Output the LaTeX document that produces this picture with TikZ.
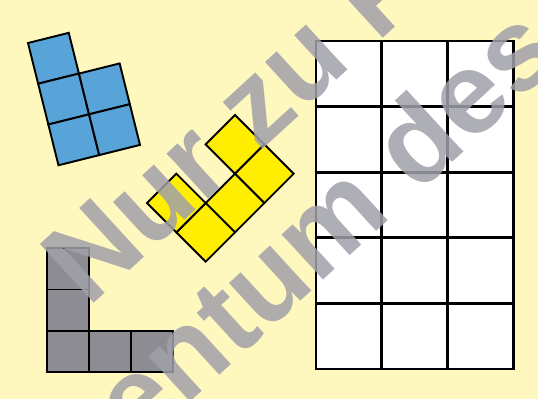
\documentclass[tikz,border=0pt]{standalone}
\usepackage{xcolor}
\usepackage{fontspec}
\usepackage{tikz}
\newfontfamily\wmfont{Liberation Sans}

\definecolor{paper}{RGB}{255,248,190}
\definecolor{tileblue}{RGB}{88,163,216}
\definecolor{tileyellow}{RGB}{255,238,0}
\definecolor{tilegray}{RGB}{140,140,146}
\definecolor{wmgray}{RGB}{160,160,170}

\begin{document}
\begin{tikzpicture}[
    x=0.02cm, y=0.02cm,
    gridcell/.style={
        draw=black,
        fill=white,
        line width=1.7pt
    },
    bluecell/.style={
        draw=black,
        fill=tileblue,
        line width=1.1pt
    },
    yellowcell/.style={
        draw=black,
        fill=tileyellow,
        line width=1.1pt
    },
    graycell/.style={
        draw=black,
        fill=tilegray,
        line width=1pt
    },
    watermark/.style={
        text=wmgray,
        text opacity=0.85,
        inner sep=0pt,
        anchor=base west,
        font=\wmfont\bfseries\fontsize{66}{66}\selectfont
    }
]

% Background
\clip (0,0) rectangle (538,399);
\fill[paper] (0,0) rectangle (538,399);

% Grid 3 x 5
\foreach \c in {0,1,2}
    \foreach \r in {0,...,4}
        \draw[gridcell] (316+\c*65.7,30+\r*65.6) rectangle ++(65.7,65.6);

% Blue piece
\begin{scope}[shift={(28,356)}, rotate=14]
    \foreach \c/\r in {0/0,0/1,1/1,0/2,1/2}
        \draw[bluecell] (\c*42,-\r*42) rectangle ++(42,-42);
\end{scope}

% Yellow piece
\begin{scope}[shift={(235,284)}, rotate=-45]
    \foreach \c/\r in {0/0,1/0,1/1,1/2,0/2}
        \draw[yellowcell] (\c*41.5,-\r*41.5) rectangle ++(41.5,-41.5);
\end{scope}

% Gray piece
\foreach \c/\r in {0/0,1/0,2/0,0/1,0/2}
    \draw[graycell] (47+\c*42,27+\r*41.3) rectangle ++(42,41.3);

% Watermark
\node[watermark, rotate=42.5] (wmone) at (88,90) {Nur zu P};
\node[watermark, rotate=42.5] (wmtwo) at (137,-52) {entum des};

\end{tikzpicture}
\end{document}
